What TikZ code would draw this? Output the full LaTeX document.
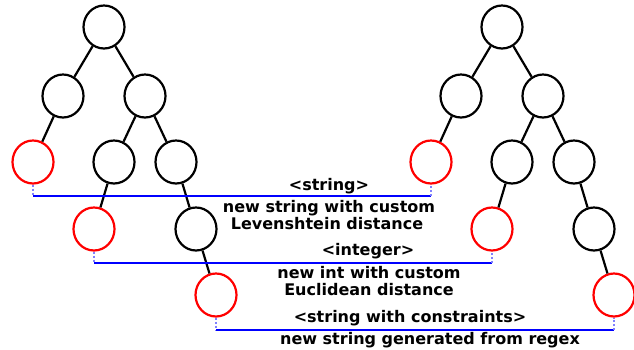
\documentclass[tikz,border=0pt]{standalone}
\usepackage{fontspec}
\setmainfont{DejaVu Sans}
\usetikzlibrary{shapes.geometric}
\begin{document}
\begin{tikzpicture}[x=1pt,y=-1pt,
  tn/.style={ellipse, draw=black, line width=2.2pt, minimum width=41pt, minimum height=43pt, inner sep=0pt},
  rn/.style={tn, draw=red},
  edge/.style={line width=2.2pt, black},
  link/.style={line width=1.8pt, blue},
  drop/.style={line width=1.8pt, color={rgb,255:red,128;green,128;blue,255}, dash pattern=on 2pt off 2pt},
  lbl/.style={font=\fontsize{16}{16}\selectfont\bfseries, inner sep=0pt, anchor=base}]
\useasboundingbox (0,0) rectangle (634,349);
\foreach \s/\d in {A/0,B/398}{
  \node[tn] (\s0) at (104+\d,27) {};
  \node[tn] (\s1) at (63+\d,96) {};
  \node[tn] (\s2) at (145+\d,96) {};
  \node[rn] (\s3) at (33+\d,162) {};
  \node[tn] (\s4) at (114+\d,162) {};
  \node[tn] (\s5) at (176+\d,162) {};
  \node[rn] (\s6) at (94+\d,229) {};
  \node[tn] (\s7) at (196+\d,229) {};
  \node[rn] (\s8) at (216+\d,295) {};
  \draw[edge] (\s0)--(\s1) (\s0)--(\s2) (\s1)--(\s3) (\s2)--(\s4) (\s2)--(\s5) (\s4)--(\s6) (\s5)--(\s7) (\s7)--(\s8);
}
\coordinate (c1a) at (33,196);
\coordinate (c1b) at (431,196);
\coordinate (c2a) at (94,263);
\coordinate (c2b) at (492,263);
\coordinate (c3a) at (216,330);
\coordinate (c3b) at (614,330);
\draw[drop] (A3.south) -- (c1a);
\draw[link] (c1a) -- (c1b);
\draw[drop] (c1b) -- (B3.south);
\draw[drop] (A6.south) -- (c2a);
\draw[link] (c2a) -- (c2b);
\draw[drop] (c2b) -- (B6.south);
\draw[drop] (A8.south) -- (c3a);
\draw[link] (c3a) -- (c3b);
\draw[drop] (c3b) -- (B8.south);
\node[lbl] (t1) at (329,190) {<string>};
\node[lbl] (t1b) at (329,212) {new string with custom};
\node[lbl] (t1c) at (327,229) {Levenshtein distance};
\node[lbl] (t2) at (368,255) {<integer>};
\node[lbl] (t2b) at (369,278) {new int with custom};
\node[lbl] (t2c) at (369,295) {Euclidean distance};
\node[lbl] (t3) at (410,322) {<string with constraints>};
\node[lbl] (t3b) at (430,344) {new string generated from regex};
\end{tikzpicture}
\end{document}
